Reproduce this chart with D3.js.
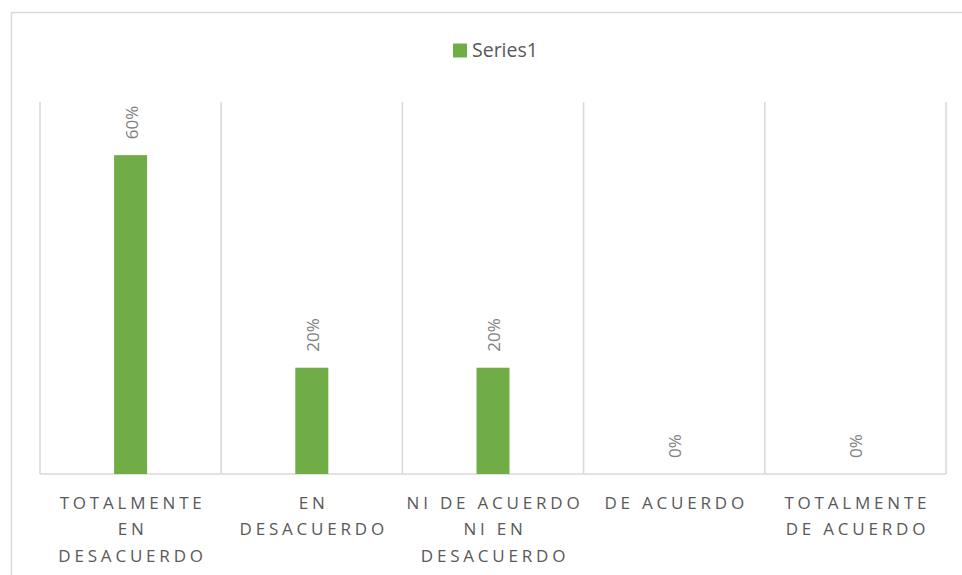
<!DOCTYPE html>
<html><head><meta charset="utf-8">
<script src="https://cdn.jsdelivr.net/npm/d3@7"></script>
<style>body{margin:0;background:#fff;}svg{display:block;font-family:"Open Sans",Lato,sans-serif;}</style>
</head><body>
<svg id="c" width="962" height="575"></svg>
<script>
const categories = [["TOTALMENTE","EN","DESACUERDO"],["EN","DESACUERDO"],["NI DE ACUERDO","NI EN","DESACUERDO"],["DE ACUERDO"],["TOTALMENTE","DE ACUERDO"]];
const values = [0.60, 0.20, 0.20, 0.00, 0.00];
const seriesName = "Series1";
const color = "#70ad47";

const svg = d3.select("#c");
svg.append("rect").attr("x",11.5).attr("y",12.5).attr("width",960).attr("height",600)
  .attr("fill","none").attr("stroke","#d9d9d9").attr("stroke-width",1.5);

const m = {l:40, r:946, t:102, b:474};
const x = d3.scaleBand().domain(d3.range(values.length)).range([m.l, m.r]).paddingInner(0).paddingOuter(0);
const y = d3.scaleLinear().domain([0, 0.70]).range([m.b, m.t]);

const g = svg.append("g");
const bounds = d3.range(values.length+1).map(i => i < values.length ? x(i) : x(values.length-1)+x.bandwidth());
g.selectAll("line.grid").data(bounds).join("line")
  .attr("x1",d=>d).attr("x2",d=>d).attr("y1",m.t).attr("y2",m.b)
  .attr("stroke","#d9d9d9").attr("stroke-width",1.5);
g.append("line").attr("x1",m.l).attr("x2",m.r).attr("y1",m.b).attr("y2",m.b)
  .attr("stroke","#d9d9d9").attr("stroke-width",1.5);

const bw = 33;
g.selectAll("rect.bar").data(values).join("rect")
  .attr("x",(d,i)=>x(i)+x.bandwidth()/2-bw/2).attr("width",bw)
  .attr("y",d=>y(d)).attr("height",d=>m.b-y(d)).attr("fill",color);

g.selectAll("text.lbl").data(values).join("text")
  .attr("transform",(d,i)=>`translate(${x(i)+x.bandwidth()/2+7},${y(d)-16}) rotate(-90)`)
  .attr("text-anchor","start").attr("fill","#808080").attr("font-size",17)
  .text(d=>d3.format(".0%")(d));

const cl = g.selectAll("text.cat").data(categories).join("text")
  .attr("text-anchor","middle").attr("fill","#595959").attr("font-size",17)
  .attr("letter-spacing","3.8px");
cl.each(function(lines,i){
  const t = d3.select(this);
  lines.forEach((ln,j)=>{
    t.append("tspan").attr("x",x(i)+x.bandwidth()/2+2).attr("y",508.5+j*26.7).text(ln);
  });
});

svg.append("rect").attr("x",453).attr("y",43.5).attr("width",14).attr("height",14).attr("fill",color);
svg.append("text").attr("x",472).attr("y",57.3).attr("fill","#595959").attr("font-size",19.5).text(seriesName);
</script>
</body></html>
